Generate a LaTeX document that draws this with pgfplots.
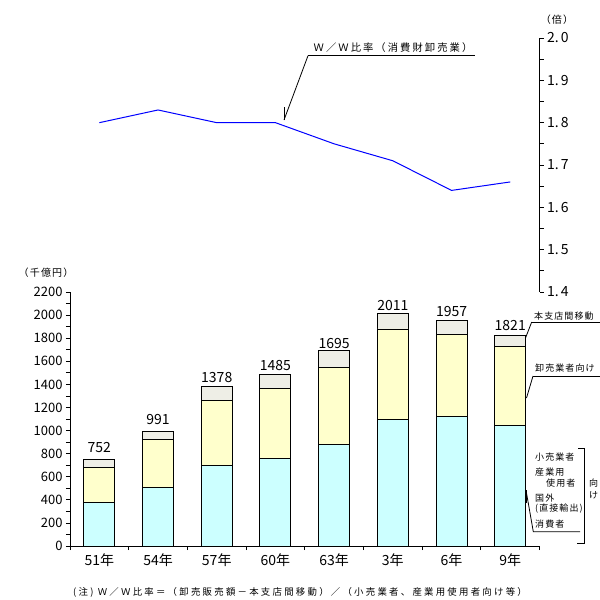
\documentclass[border=0pt]{standalone}
\usepackage{fontspec}
\setmainfont{Noto Sans CJK JP}
\newfontfamily\jpa[LetterSpace=20]{Noto Sans CJK JP}
\newfontfamily\jpn[LetterSpace=24]{Noto Sans CJK JP}
\newfontfamily\jpb[LetterSpace=12]{Noto Sans CJK JP}
\usepackage{pgfplots}
\pgfplotsset{compat=1.18}
\usepackage{pgfplotstable}
\definecolor{cy}{HTML}{CCFFFF}
\definecolor{ye}{HTML}{FFFFCC}
\definecolor{gr}{HTML}{EEEEE6}
\pgfplotstableread{
x cy ye gr tot
0.5 379 303 70 752
1.5 509 416 66 991
2.5 700 564 114 1378
3.5 761 607 117 1485
4.5 882 668 145 1695
5.5 1099 781 131 2011
6.5 1119 717 121 1957
7.5 1041 691 89 1821
}\bars
\pgfplotstableread{
x r
0.5 1.80
1.5 1.83
2.5 1.80
3.5 1.80
4.5 1.75
5.5 1.71
6.5 1.64
7.5 1.66
}\ratio
\begin{document}
\begin{tikzpicture}
\useasboundingbox (0,0) rectangle (600pt,-600pt);
\begin{axis}[at={(70pt,-546pt)}, anchor=south west,
  width=469.6pt, height=254pt, scale only axis,
  xmin=0, xmax=8, ymin=0, ymax=2200,
  axis x line*=bottom, axis y line*=left,
  every outer x axis line/.append style={-},
  every outer y axis line/.append style={-},
  axis line style={line width=0.9pt},
  ybar stacked, bar width=31pt,
  xtick={0.5,1.5,2.5,3.5,4.5,5.5,6.5,7.5},
  xticklabels={51年,54年,57年,60年,63年,3年,6年,9年},
  major x tick style={draw=none},
  minor xtick={0,1,2,3,4,5,6,7,8},
  ytick={0,200,400,600,800,1000,1200,1400,1600,1800,2000,2200},
  minor ytick={100,300,500,700,900,1100,1300,1500,1700,1900,2100},
  tick align=outside, major tick length=4pt, minor tick length=4pt,
  tick style={black, line width=0.8pt},
  /pgf/number format/assume math mode=true,
  /pgf/number format/1000 sep={},
  yticklabel style={font=\fontsize{13}{13}\selectfont},
  xticklabel style={font=\fontsize{14}{14}\selectfont},
]
\addplot[fill=cy, draw=black, line width=0.9pt] table[x=x,y=cy]{\bars};
\addplot[fill=ye, draw=black, line width=0.9pt] table[x=x,y=ye]{\bars};
\addplot[fill=gr, draw=black, line width=0.9pt, point meta=explicit,
  nodes near coords={\pgfmathprintnumber[fixed,precision=0,1000 sep={}]{\pgfplotspointmeta}},
  every node near coord/.append style={font=\fontsize{14}{14}\selectfont, anchor=south, inner sep=0pt, yshift=10pt}] table[x=x,y=gr,meta=tot]{\bars};
\end{axis}
\begin{axis}[at={(70pt,-292pt)}, anchor=south west,
  width=469.6pt, height=254pt, scale only axis,
  xmin=0, xmax=8, ymin=1.4, ymax=2.0,
  axis x line=none, axis y line*=right,
  every outer y axis line/.append style={-},
  axis line style={line width=0.9pt},
  ytick={1.4,1.5,1.6,1.7,1.8,1.9,2.0},
  yticklabels={1.\kern2pt4,1.\kern2pt5,1.\kern2pt6,1.\kern2pt7,1.\kern2pt8,1.\kern2pt9,2.\kern2pt0},
  minor ytick={1.45,1.55,1.65,1.75,1.85,1.95},
  tick align=outside, major tick length=4pt, minor tick length=4pt,
  tick style={black, line width=0.8pt},
  yticklabel style={font=\fontsize{14}{14}\selectfont},
]
\addplot[blue, line width=1pt] table[x=x,y=r]{\ratio};
\end{axis}
\begin{scope}[x=1pt,y=-1pt]
\draw[line width=0.9pt] (308,55.7) -- (475,55.7);
\draw[line width=0.8pt] (308,55.7) -- (284,120);
\draw[line width=0.8pt] (284,107) -- (284,120);
\node[anchor=base, inner sep=0pt, font=\jpa\fontsize{10.3}{12}\selectfont] at (393,51) {Ｗ／Ｗ比率（消費財卸売業）};
\node[font=\jpb\fontsize{10}{10}\selectfont] at (46,273) {（千億円）};
\node[font=\jpb\fontsize{10}{10}\selectfont] at (557,20) {（倍）};
% right annotations
\draw[line width=0.8pt] (531.7,322) -- (600,322);
\draw[line width=0.8pt] (531.7,322) -- (525.5,338);
\node[anchor=west, inner sep=0pt, font=\jpb\fontsize{9}{10}\selectfont] at (534,316) {本支店間移動};
\draw[line width=0.8pt] (533,376) -- (600,376);
\draw[line width=0.8pt] (533,376) -- (526.5,398);
\node[anchor=west, inner sep=0pt, font=\jpb\fontsize{9}{10}\selectfont] at (535,368) {卸売業者向け};
\begin{scope}[every node/.style={anchor=west, inner sep=0pt, font=\jpb\fontsize{9}{10}\selectfont}]
\node at (535,457) {小売業者};
\node at (535,472) {産業用};
\node at (546,483) {使用者};
\node at (535,498) {国外};
\node at (535,509) {(直接輸出)};
\node at (535,524) {消費者};
\node at (589,483) {向};
\node at (589,495) {け};
\end{scope}
\draw[line width=0.8pt] (578,448) -- (584,448) -- (584,543) -- (577,543);
\draw[line width=0.8pt] (526.5,493) -- (533.3,531.7) -- (580,531.7);
\draw[line width=1.8pt] (526.5,490) -- (526.5,503);
\node[font=\jpn\fontsize{9.4}{10}\selectfont] at (300,592) {(注) Ｗ／Ｗ比率＝（卸売販売額－本支店間移動）／（小売業者、産業用使用者向け等）};
\end{scope}
\end{tikzpicture}
\end{document}
